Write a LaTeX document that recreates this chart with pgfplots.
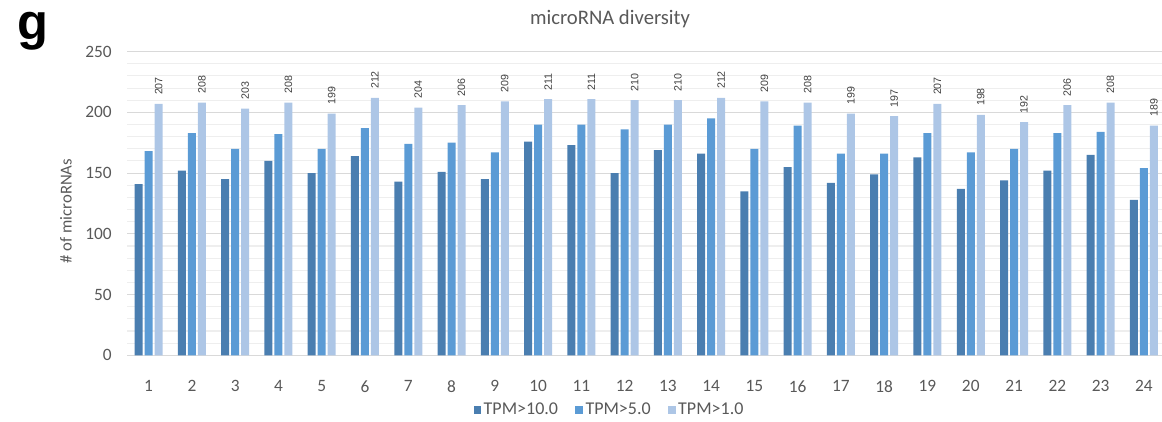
\documentclass[border=0pt]{standalone}
\usepackage{pgfplots}
\pgfplotsset{compat=1.18}
\usepackage{pgfplotstable}
\usepackage{fontspec}
\setmainfont{Carlito}
\newfontfamily\arialf{Liberation Sans}
\definecolor{cdark}{HTML}{4A7EB0}
\definecolor{cmid}{HTML}{5B9BD5}
\definecolor{clight}{HTML}{ADC6E6}
\definecolor{txt}{HTML}{595959}
\definecolor{gridc}{HTML}{D9D9D9}
\definecolor{minc}{HTML}{EEEEEE}

\pgfplotstableread{
x a b c
1 141 168 207
2 152 183 208
3 145 170 203
4 160 182 208
5 150 170 199
6 164 187 212
7 143 174 204
8 151 175 206
9 145 167 209
10 176 190 211
11 173 190 211
12 150 186 210
13 169 190 210
14 166 195 212
15 135 170 209
16 155 189 208
17 142 166 199
18 149 166 197
19 163 183 207
20 137 167 198
21 144 170 192
22 152 183 206
23 165 184 208
24 128 154 189
}\data

\begin{document}
\begin{tikzpicture}
\path[use as bounding box] (0,0) rectangle (871.5pt,315.75pt);
\node[anchor=base, font=\arialf\bfseries\fontsize{38}{40}\selectfont] at (25pt,286pt) {g};
\node[anchor=center, text=txt, font=\fontsize{15.5}{18}\selectfont] at (457.5pt,301.5pt) {microRNA diversity};
\node[anchor=center, rotate=90, text=txt, font=\fontsize{12.5}{14}\selectfont] at (49.5pt,157.5pt) {\# of microRNAs};
\begin{axis}[
  at={(95.25pt,49.3pt)}, anchor=south west,
  scale only axis, width=776.25pt, height=227.7pt,
  xmin=0.5, xmax=24.42, ymin=0, ymax=250,
  ybar, bar width=6pt,
  /pgf/number format/assume math mode=true,
  xtick={1,...,24}, ytick={0,50,...,250},
  minor ytick={10,20,30,40,60,70,80,90,110,120,130,140,160,170,180,190,210,220,230,240},
  ymajorgrids, yminorgrids,
  major grid style={gridc, line width=0.8pt},
  minor grid style={minc, line width=0.8pt},
  axis lines*=left,
  x axis line style={gridc, line width=0.8pt, -},
  y axis line style={draw=none},
  tick style={draw=none},
  tick label style={font=\fontsize{13}{15}\selectfont, text=txt},
  yticklabel style={xshift=-8pt},
  xticklabel style={yshift=-11pt},
  legend style={at={(0.4665,-0.18)}, anchor=center, draw=none, fill=none,
    legend columns=3, font=\fontsize{13.5}{15}\selectfont, text=txt,
    /tikz/every even column/.append style={column sep=11pt}},
  legend image code/.code={\fill[#1] (0pt,-2.8pt) rectangle (5.6pt,2.8pt);},
]
\addplot[fill=cdark, draw=none, bar shift=-7.5pt] table[x=x,y=a]{\data};
\addplot[fill=cmid, draw=none, bar shift=0pt] table[x=x,y=b]{\data};
\addplot[fill=clight, draw=none, bar shift=7.5pt, nodes near coords,
  every node near coord/.append style={rotate=90, anchor=west, inner xsep=6.5pt,
  font=\arialf\fontsize{8}{9}\selectfont, text=black!75}] table[x=x,y=c]{\data};
\legend{TPM>10.0, TPM>5.0, TPM>1.0}
\end{axis}
\end{tikzpicture}
\end{document}
